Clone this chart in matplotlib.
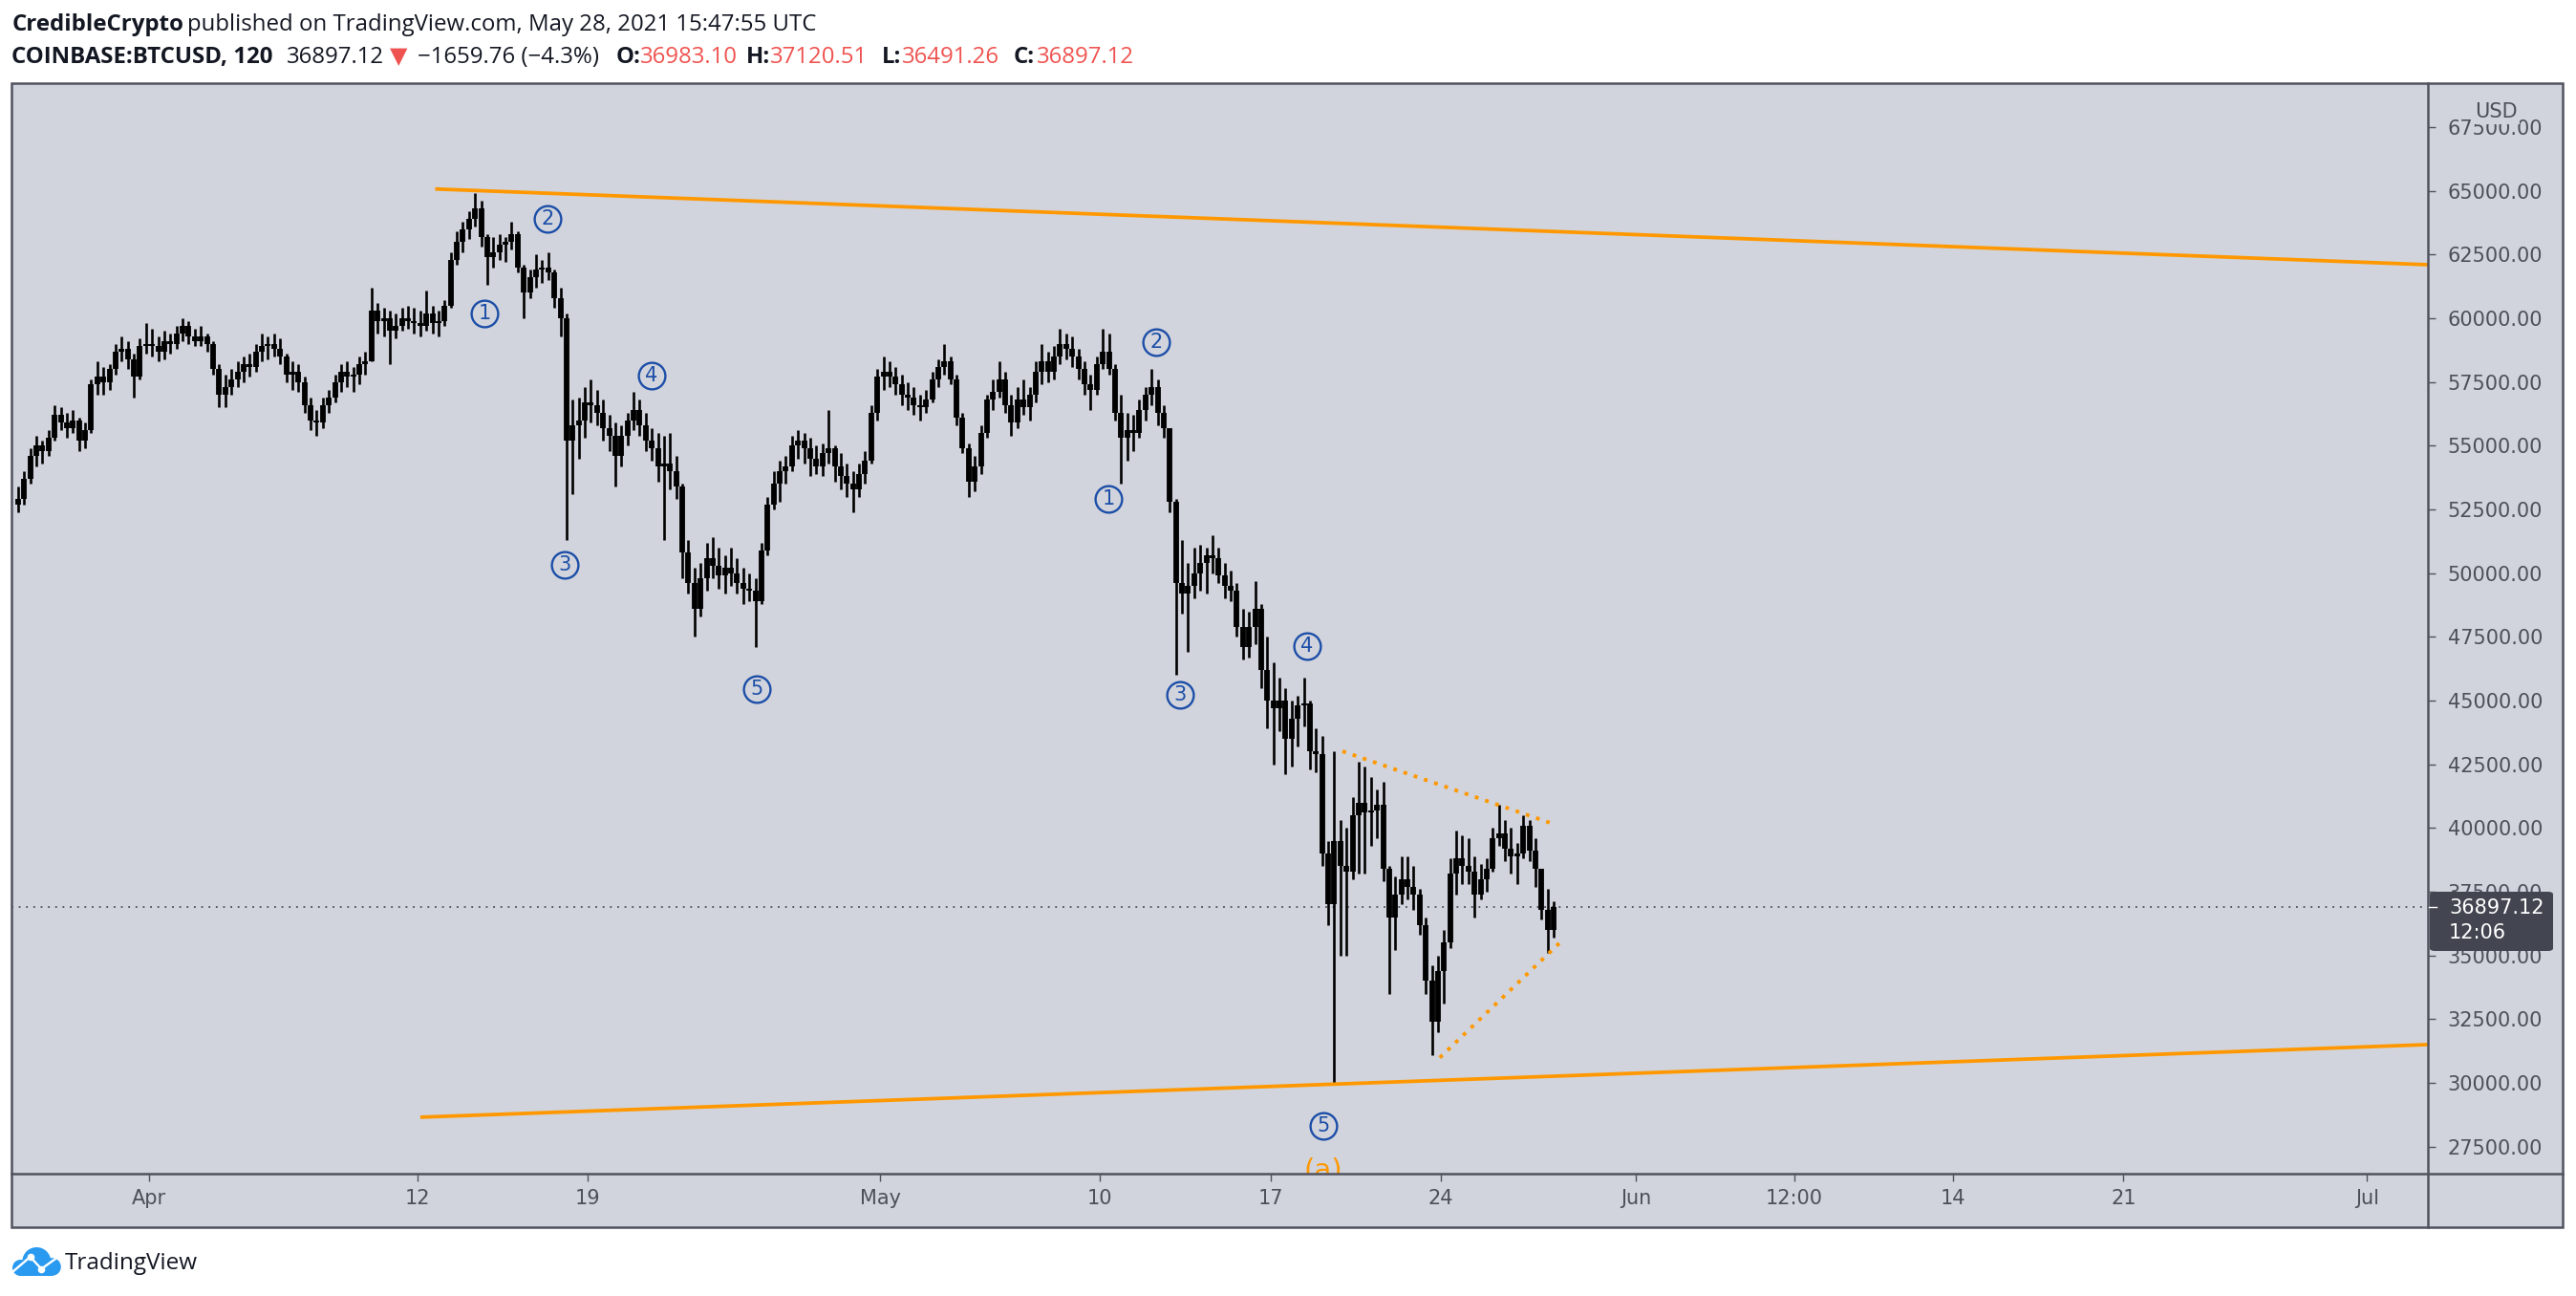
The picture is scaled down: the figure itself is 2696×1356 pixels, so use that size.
import numpy as np
import pandas as pd
import matplotlib
matplotlib.use("Agg")
import matplotlib.pyplot as plt
import matplotlib.dates as mdates
from matplotlib.patches import Rectangle, Circle, FancyBboxPatch
from matplotlib.lines import Line2D

# ---------------- data (2h BTCUSD chart, read as 6h bins) ----------------
bar_start = "2021-03-26 12:00"
bar_hours = 6
first_open = 52700
close = [
    52900, 53700,
    54600, 55000, 54800, 55300,  # Mar 27
    56200, 55900, 55700, 56000,
    55200, 55600, 57400, 57700,
    57500, 58000, 58700, 58800,
    58400, 57700, 58900, 59000,  # Mar 31
    58900, 58700, 59100, 59000,  # Apr 1
    59400, 59700, 59300, 59100,
    59300, 59000, 58000, 57000,
    57300, 57600, 57900, 58200,
    58100, 58700, 58900, 59000,
    58800, 58500, 57800, 57900,
    57500, 56600, 56000, 55900,
    56600, 56900, 57500, 57900,
    57700, 57800, 58200, 58300,
    60300, 59900, 60000, 59500,  # Apr 10
    59700, 60000, 59900, 59800,
    59700, 60200, 59800, 59900,
    60500, 62300, 63000, 63500,
    63900, 64300, 63200, 62400,
    62600, 62900, 63000, 63300,
    62000, 61000, 61600, 61900,
    62000, 61800, 60800, 60000,
    55200, 55800, 56000, 56700,  # Apr 18
    56600, 56300, 55700, 55400,
    54600, 55400, 56000, 56400,  # Apr 20
    55800, 55200, 54900, 54200,
    54300, 54000, 53400, 50800,
    49600, 48600, 49800, 50600,
    50300, 49900, 50200, 50000,
    49600, 49400, 49300, 48900,
    50900, 52700, 53500, 54000,
    54200, 55000, 55200, 54900,
    54500, 54200, 54700, 54900,
    54200, 53800, 53500, 53300,
    53900, 54400, 56300, 57700,  # Apr 30
    57900, 57700, 57400, 57000,  # May 1
    56900, 56600, 56500, 56800,
    57600, 58100, 58300, 57600,
    56100, 54900, 53600, 54200,
    55500, 56800, 57100, 57600,
    56600, 55900, 56800, 56500,
    57000, 57900, 58300, 57900,
    58500, 59000, 58800, 58500,
    58000, 57400, 57200, 58200,
    58700, 58000, 56300, 55300,  # May 10
    55600, 55500, 56400, 57000,
    57300, 56300, 55700, 52800,
    49600, 49200, 49500, 50000,
    50400, 50700, 50600, 49900,
    49500, 49300, 47900, 47100,
    47900, 48600, 46200, 45000,
    44700, 45000, 43500, 44300,  # May 17
    44800, 44900, 43000, 42900,
    39000, 37000, 39500, 38500,  # May 19
    38300, 40500, 41000, 40600,
    40700, 40900, 38400, 36500,
    37400, 38000, 37700, 37400,
    36200, 34000, 32400, 34400,
    35500, 38200, 38800, 38500,  # May 24
    38300, 37400, 38000, 38400,
    39600, 39800, 39200, 38900,
    39000, 40100, 39100, 38400,
    36800, 36000, 36897.12,      # May 28
]
high = [
    53400, 54000,
    54900, 55400, 55200, 55600,
    56600, 56500, 56300, 56400,
    56100, 55900, 57600, 58300,
    58100, 58200, 59000, 59300,
    59100, 58600, 59200, 59800,
    59600, 59300, 59500, 59400,
    59700, 60000, 59900, 59600,
    59700, 59400, 59100, 58200,
    57800, 58000, 58300, 58500,
    58600, 59000, 59400, 59300,
    59400, 59200, 58600, 58300,
    58200, 57700, 56900, 56400,
    56900, 57200, 57800, 58200,
    58300, 58100, 58500, 58700,
    61200, 60600, 60400, 60300,
    60200, 60400, 60500, 60400,
    60300, 61100, 60500, 60300,
    60700, 62600, 63400, 63800,
    64200, 64900, 64600, 63300,
    63200, 63300, 63200, 63800,
    63400, 62100, 61900, 62500,
    62300, 62600, 61900, 61200,
    60200, 56800, 56900, 57300,
    57600, 57200, 56800, 56200,
    55900, 55800, 56300, 57100,
    56800, 56300, 55700, 55500,
    55400, 55500, 54600, 53500,
    51300, 50200, 50400, 51200,
    51400, 51000, 50700, 51000,
    50600, 50200, 50000, 49800,
    51200, 53000, 54000, 54400,
    54600, 55400, 55600, 55500,
    55300, 55000, 55100, 56400,
    55000, 54700, 54300, 54000,
    54300, 54800, 56600, 58000,
    58500, 58300, 58100, 57800,
    57500, 57300, 57000, 57200,
    57900, 58400, 59000, 58500,
    57800, 56300, 55100, 54600,
    55800, 57000, 57600, 58300,
    57900, 57000, 57300, 57600,
    57300, 58300, 59000, 58700,
    58900, 59600, 59400, 59300,
    58800, 58300, 57800, 58500,
    59600, 59400, 58200, 57000,
    56300, 56200, 56800, 57300,
    58000, 57600, 56600, 55600,
    52900, 51300, 50400, 51000,
    51100, 51000, 51500, 51000,
    50400, 50100, 49600, 48600,
    48500, 49700, 48800, 47500,
    46500, 45900, 45500, 45000,
    45200, 45900, 45000, 43900,
    43600, 39500, 43000, 40300,
    40000, 41200, 42600, 42400,
    42000, 41500, 41800, 38500,
    38100, 38900, 38900, 38500,
    37600, 36500, 34600, 35000,
    36000, 38800, 39900, 39700,
    39600, 38900, 38600, 38800,
    40000, 40900, 40300, 40000,
    39400, 40500, 40300, 39600,
    38400, 37600, 37120.51,
]
low = [
    52400, 52700,
    53500, 54200, 54300, 54600,
    55200, 55600, 55300, 55500,
    54800, 54900, 55500, 57000,
    57000, 57200, 57800, 58300,
    58000, 56900, 57600, 58600,
    58500, 58300, 58400, 58600,
    58800, 59100, 59000, 58900,
    58900, 58700, 57800, 56500,
    56500, 57000, 57300, 57500,
    57700, 57900, 58300, 58400,
    58500, 58200, 57500, 57200,
    57100, 56300, 55600, 55400,
    55700, 56300, 56700, 57100,
    57300, 57100, 57400, 57800,
    58300, 59400, 59300, 58200,
    59200, 59500, 59600, 59400,
    59300, 59500, 59400, 59300,
    59700, 60400, 62100, 62600,
    63100, 63600, 62800, 61300,
    62000, 62300, 62200, 62700,
    61800, 60000, 60800, 61200,
    61400, 61500, 60400, 59300,
    51300, 53100, 54500, 55300,
    55900, 55800, 55200, 54800,
    53400, 54200, 55000, 55600,
    55400, 54800, 54400, 53600,
    51300, 53300, 52900, 49800,
    49200, 47500, 48300, 49300,
    49800, 49400, 49200, 49500,
    49200, 48800, 48900, 47100,
    48800, 50700, 52500, 52800,
    53500, 54000, 54500, 54300,
    53800, 53900, 53800, 54300,
    53600, 53300, 53000, 52400,
    53000, 53500, 54300, 56000,
    57200, 57300, 57000, 56600,
    56400, 56200, 56000, 56300,
    56700, 57300, 57800, 57400,
    55800, 54700, 53000, 53200,
    53900, 55300, 56400, 56900,
    56300, 55400, 55700, 56200,
    56000, 56700, 57400, 57500,
    57600, 58200, 58400, 58100,
    57600, 57000, 56400, 57000,
    58000, 57800, 56000, 53500,
    54400, 54800, 55300, 56000,
    56600, 55800, 55300, 52400,
    46000, 48400, 46900, 49000,
    49300, 49200, 50000, 49600,
    49000, 48900, 47500, 46600,
    46700, 47200, 45500, 43900,
    42500, 43800, 42100, 42400,
    43200, 44000, 42300, 42200,
    38500, 36200, 30000, 35000,
    35000, 38000, 38200, 38200,
    39300, 39600, 37900, 33500,
    35200, 37000, 37200, 36800,
    35800, 33500, 31100, 32000,
    33100, 35300, 37400, 37800,
    37800, 36500, 37200, 37500,
    38300, 39300, 38700, 38200,
    37800, 38800, 38700, 37700,
    36400, 35100, 35700,
]
last_price = 36897.12
last_price_label = "36897.12"
countdown_label = "12:06"

# drawn trend lines: (times, prices)
trend_upper_t = ["2021-04-12 17:45", "2021-07-03 12:00"]
trend_upper_p = [65067, 62095]
trend_lower_t = ["2021-04-12 03:05", "2021-07-03 12:00"]
trend_lower_p = [28654, 31503]
tri_upper_t = ["2021-05-19 23:00", "2021-05-28 11:00"]
tri_upper_p = [43010, 40210]
tri_lower_t = ["2021-05-23 22:50", "2021-05-29 01:00"]
tri_lower_p = [30990, 35650]

# Elliott wave labels
wave_text = ["1", "2", "3", "4", "5", "1", "2", "3", "4", "5"]
wave_t = ["2021-04-14 18:15", "2021-04-17 08:25", "2021-04-18 00:45", "2021-04-21 14:25",
          "2021-04-25 22:20", "2021-05-10 08:50", "2021-05-12 07:55", "2021-05-13 07:25",
          "2021-05-18 12:00", "2021-05-19 03:50"]
wave_p = [60200, 63910, 50320, 57750, 45450, 52910, 59060, 45220, 47150, 28300]
abc_text = "(a)"
abc_t = "2021-05-19 04:00"
abc_p = 26254

price_ticks = list(range(27500, 67501, 2500))
date_ticks = ["2021-04-01", "2021-04-12", "2021-04-19", "2021-05-01", "2021-05-10",
              "2021-05-17", "2021-05-24", "2021-06-01", "2021-06-07 12:00",
              "2021-06-14", "2021-06-21", "2021-07-01"]
date_labels = ["Apr", "12", "19", "May", "10", "17", "24", "Jun", "12:00", "14", "21", "Jul"]

x_range = ["2021-03-26 08:30", "2021-07-03 11:45"]
y_range = [26439, 69218]

# ---------------- styling ----------------
W, H, DPI = 2696, 1356, 100
BG = "#d1d4dc"
BORDER = "#50535e"
TXT = "#4c505b"
DARK = "#131722"
RED = "#ef5350"
ORANGE = "#ff9800"
BLUE = "#1c4ea8"

def fx(px):
    return px / W

def fy(py):
    return 1 - py / H

def tnum(s):
    return mdates.date2num(pd.Timestamp(s).to_pydatetime())

fig = plt.figure(figsize=(W / DPI, H / DPI), dpi=DPI, facecolor="white")

# panel background
fig.add_artist(Rectangle((fx(12), fy(1284)), fx(2682) - fx(12), fy(87) - fy(1284),
                         transform=fig.transFigure, fc=BG, ec="none", zorder=-5))

ax = fig.add_axes([fx(12), fy(1228), fx(2541) - fx(12), fy(87) - fy(1228)])
ax.set_facecolor(BG)
for s in ax.spines.values():
    s.set_visible(False)

# candles
times = pd.date_range(bar_start, periods=len(close), freq=f"{bar_hours}h") + pd.Timedelta(hours=bar_hours / 2)
xs = mdates.date2num(times.to_pydatetime())
opens = np.array([first_open] + close[:-1], dtype=float)
cl = np.array(close, dtype=float)
ax.vlines(xs, low, high, color="black", lw=1.9, zorder=3)
ax.vlines(xs, np.minimum(opens, cl), np.maximum(opens, cl), color="black", lw=4.2, zorder=3)

# trend lines
ax.plot([tnum(t) for t in trend_upper_t], trend_upper_p, color=ORANGE, lw=2.7, zorder=4,
        solid_capstyle="butt")
ax.plot([tnum(t) for t in trend_lower_t], trend_lower_p, color=ORANGE, lw=2.7, zorder=4,
        solid_capstyle="butt")
ax.plot([tnum(t) for t in tri_upper_t], tri_upper_p, color=ORANGE, lw=2.8, zorder=4,
        ls=(0, (1.0, 1.9)), dash_capstyle="butt")
ax.plot([tnum(t) for t in tri_lower_t], tri_lower_p, color=ORANGE, lw=2.8, zorder=4,
        ls=(0, (1.0, 1.9)), dash_capstyle="butt")

# last price line
ax.axhline(last_price, color="#363a45", lw=1.1, ls=(0, (1.2, 3.8)), zorder=2)

# wave labels
for s, t, p in zip(wave_text, wave_t, wave_p):
    ax.plot([tnum(t)], [p], marker="o", ms=20, mfc="none", mec=BLUE, mew=1.7, zorder=5)
    ax.text(tnum(t), p, s, color=BLUE, fontsize=15, ha="center", va="center", zorder=6,
            family="DejaVu Sans")
ax.text(tnum(abc_t), abc_p, abc_text, color=ORANGE, fontsize=21, ha="center",
        va="baseline", zorder=6, clip_on=True)

ax.set_xlim(tnum(x_range[0]), tnum(x_range[1]))
ax.set_ylim(*y_range)

ax.yaxis.tick_right()
ax.set_yticks(price_ticks)
ax.set_yticklabels([f"{v:.2f}" for v in price_ticks])
ax.set_xticks([tnum(t) for t in date_ticks])
ax.set_xticklabels(date_labels)
ax.tick_params(axis="y", length=5.8, width=1.0, color=BORDER, pad=9, labelsize=15,
               labelcolor=TXT)
ax.tick_params(axis="x", length=5.8, width=1.0, color=BORDER, pad=6, labelsize=15,
               labelcolor=TXT)

# frame lines
fig.add_artist(Rectangle((fx(12), fy(1284)), fx(2682) - fx(12), fy(87) - fy(1284),
                         transform=fig.transFigure, fc="none", ec=BORDER, lw=1.8, zorder=8))
fig.add_artist(Line2D([fx(2541), fx(2541)], [fy(87), fy(1284)], transform=fig.transFigure,
                      color=BORDER, lw=1.8, zorder=8))
fig.add_artist(Line2D([fx(12), fx(2682)], [fy(1228), fy(1228)], transform=fig.transFigure,
                      color=BORDER, lw=1.8, zorder=8))

# USD label
fig.text(fx(2612), fy(117), "USD", color=TXT, fontsize=15, ha="center", va="center",
         zorder=9, bbox=dict(boxstyle="square,pad=0.15", fc=BG, ec="none"))

# last price box
fig.add_artist(FancyBboxPatch((fx(2543), fy(995)), fx(2672) - fx(2543), fy(933) - fy(995),
                              boxstyle="round,pad=0,rounding_size=0.002",
                              transform=fig.transFigure, fc="#434651", ec="none", zorder=9))
fig.add_artist(Line2D([fx(2542), fx(2550)], [fy(949), fy(949)], transform=fig.transFigure,
                      color="white", lw=1.0, zorder=10))
fig.text(fx(2563), fy(950), last_price_label, color="white", fontsize=15, ha="left",
         va="center", zorder=10)
fig.text(fx(2563), fy(976), countdown_label, color="white", fontsize=15, ha="left",
         va="center", zorder=10)

# header
HF = ["Open Sans", "DejaVu Sans"]
HS = 17.3
fig.text(fx(12.4), fy(32), "CredibleCrypto", color=DARK, fontsize=HS, fontweight="bold",
         family=HF, va="baseline")
fig.text(fx(196), fy(32), "published on TradingView.com, May 28, 2021 15:47:55 UTC",
         color=DARK, fontsize=HS, family=HF, va="baseline")
header2 = [
    (12.4, "COINBASE:BTCUSD, 120", DARK, "bold"),
    (300, "36897.12", DARK, "normal"),
    (408, "\u25bc", RED, "normal"),
    (437, "\u22121659.76 (\u22124.3%)", DARK, "normal"),
    (645, "O:", DARK, "bold"),
    (670, "36983.10", RED, "normal"),
    (781, "H:", DARK, "bold"),
    (806, "37120.51", RED, "normal"),
    (923, "L:", DARK, "bold"),
    (944, "36491.26", RED, "normal"),
    (1061, "C:", DARK, "bold"),
    (1085, "36897.12", RED, "normal"),
]
for x0, s, c, w in header2:
    fig.text(fx(x0), fy(66), s, color=c, fontsize=HS, fontweight=w, family=HF,
             va="baseline")

# TradingView logo
axl = fig.add_axes([fx(8), fy(1342), fx(70) - fx(8), fy(1300) - fy(1342)])
axl.set_xlim(8, 70)
axl.set_ylim(1342, 1300)
axl.axis("off")
LB = "#2a9af0"
for c in [Circle((38.3, 1320), 15), Circle((54.5, 1325.5), 9.3), Circle((21.5, 1326.5), 8.5)]:
    c.set_facecolor(LB)
    c.set_edgecolor("none")
    axl.add_patch(c)
axl.add_patch(Rectangle((21.5, 1324), 33, 11, fc=LB, ec="none"))
axl.plot([13.5, 31.7, 43.3, 59.5], [1330.5, 1315, 1327.7, 1316], color="white", lw=1.7,
         solid_capstyle="round")
axl.plot([31.7, 43.3], [1315, 1327.7], "o", color="white", ms=5.5, mec="none")
fig.text(fx(68), fy(1328), "TradingView", color=DARK, fontsize=17.5, family=HF,
         va="baseline")

fig.savefig("out.png", dpi=DPI, facecolor="white")
